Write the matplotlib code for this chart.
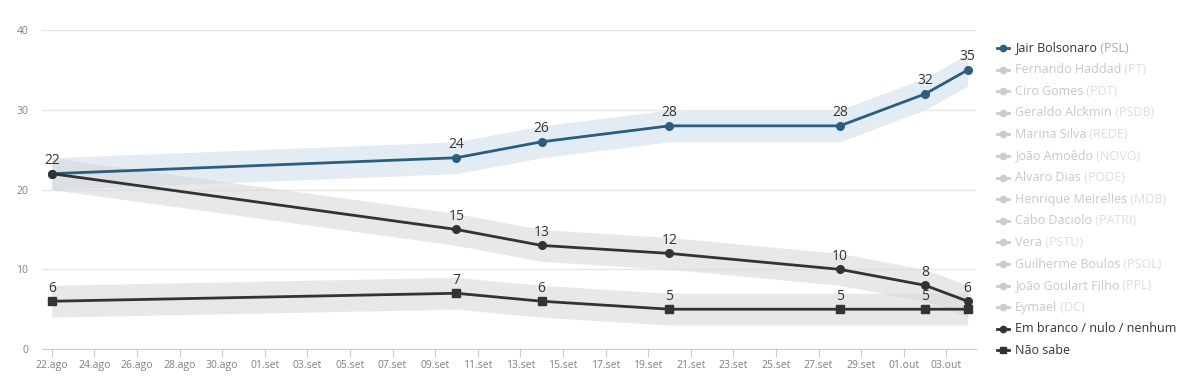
import matplotlib
matplotlib.use("Agg")
import matplotlib.pyplot as plt
from matplotlib.lines import Line2D
import pandas as pd

plt.rcParams['font.family'] = ['Open Sans', 'DejaVu Sans']

dates = pd.to_datetime(["2018-08-22", "2018-09-10", "2018-09-14", "2018-09-20",
                        "2018-09-28", "2018-10-02", "2018-10-04"])
bolsonaro = [22, 24, 26, 28, 28, 32, 35]
branco = [22, 15, 13, 12, 10, 8, 6]
nao_sabe = [6, 7, 6, 5, 5, 5, 5]
margin = 2

legend_names = ["Jair Bolsonaro", "Fernando Haddad", "Ciro Gomes", "Geraldo Alckmin",
                "Marina Silva", "João Amoêdo", "Alvaro Dias", "Henrique Meirelles",
                "Cabo Daciolo", "Vera", "Guilherme Boulos", "João Goulart Filho",
                "Eymael", "Em branco / nulo / nenhum", "Não sabe"]
legend_parties = ["(PSL)", "(PT)", "(PDT)", "(PSDB)", "(REDE)", "(NOVO)", "(PODE)",
                  "(MDB)", "(PATRI)", "(PSTU)", "(PSOL)", "(PPL)", "(DC)", "", ""]

blue = "#2a5d80"
dark = "#333333"

fig = plt.figure(figsize=(12, 3.87), dpi=100)
ax = fig.add_axes([0.035, 0.098, 0.778, 0.824])

ax.fill_between(dates, [v - margin for v in bolsonaro], [v + margin for v in bolsonaro],
                color="#e4ecf3", lw=0, zorder=1)
ax.fill_between(dates, [v - margin for v in branco], [v + margin for v in branco],
                color="#d9d9d9", alpha=0.6, lw=0, zorder=1)
ax.fill_between(dates, [v - margin for v in nao_sabe], [v + margin for v in nao_sabe],
                color="#d9d9d9", alpha=0.6, lw=0, zorder=1)

ax.plot(dates, bolsonaro, color=blue, lw=2, marker="o", ms=5.5, zorder=3)
ax.plot(dates, branco, color=dark, lw=2, marker="o", ms=5.5, zorder=3)
ax.plot(dates, nao_sabe, color=dark, lw=2, marker="s", ms=5.5, zorder=3)

lbl = dict(ha="center", va="bottom", fontsize=10, color="#333333", zorder=4,
           textcoords="offset points", xytext=(0, 4))
for i, (d, v) in enumerate(zip(dates, bolsonaro)):
    ax.annotate(str(v), (d, v), **lbl)
for i, (d, v) in enumerate(zip(dates, branco)):
    if i == 0:
        continue
    ax.annotate(str(v), (d, v), **lbl)
for i, (d, v) in enumerate(zip(dates, nao_sabe)):
    if i == len(nao_sabe) - 1:
        continue
    ax.annotate(str(v), (d, v), **lbl)

ax.set_ylim(0, 40)
ax.set_xlim(dates[0] - pd.Timedelta(hours=11), dates[-1] + pd.Timedelta(hours=9))
ax.set_yticks([0, 10, 20, 30, 40])
ax.yaxis.grid(True, color="#e6e6e6", lw=1)
ax.set_axisbelow(True)
for s in ["top", "right", "left"]:
    ax.spines[s].set_visible(False)
ax.spines["bottom"].set_color("#cccccc")
ax.spines["bottom"].set_zorder(0)
ticks = pd.date_range("2018-08-22", "2018-10-03", freq="2D")
months = {8: "ago", 9: "set", 10: "out"}
ax.set_xticks(ticks)
ax.set_xticklabels([t.strftime("%d.") + months[t.month] for t in ticks])
ax.tick_params(axis="x", colors="#cccccc", labelcolor="#808080", labelsize=7.5, length=6, pad=2)
ax.tick_params(axis="y", length=0, labelcolor="#808080", labelsize=7.5, pad=10)

# Legend
y0 = 1 - 48 / 387
step = 21.6 / 387
for i, (name, party) in enumerate(zip(legend_names, legend_parties)):
    y = y0 - i * step
    if i == 0:
        c, tc, pc, mk = blue, "#333333", "#aaaaaa", "o"
    elif i == 13:
        c, tc, pc, mk = dark, "#333333", "#aaaaaa", "o"
    elif i == 14:
        c, tc, pc, mk = dark, "#333333", "#aaaaaa", "s"
    else:
        c, tc, pc, mk = "#cccccc", "#c8c8c8", "#dddddd", "o"
    fig.add_artist(Line2D([997 / 1200, 1009 / 1200], [y, y], color=c, lw=2,
                          transform=fig.transFigure))
    fig.add_artist(Line2D([1003 / 1200], [y], color=c, marker=mk, ms=4.5,
                          transform=fig.transFigure))
    t = fig.text(1015 / 1200, y, name, color=tc, fontsize=9, va="center", ha="left")
    if party:
        ax.annotate(" " + party, xy=(1, 0.5), xycoords=t, va="center", ha="left",
                    fontsize=9, color=pc, annotation_clip=False)

fig.savefig("out.png", dpi=100, facecolor="white")
